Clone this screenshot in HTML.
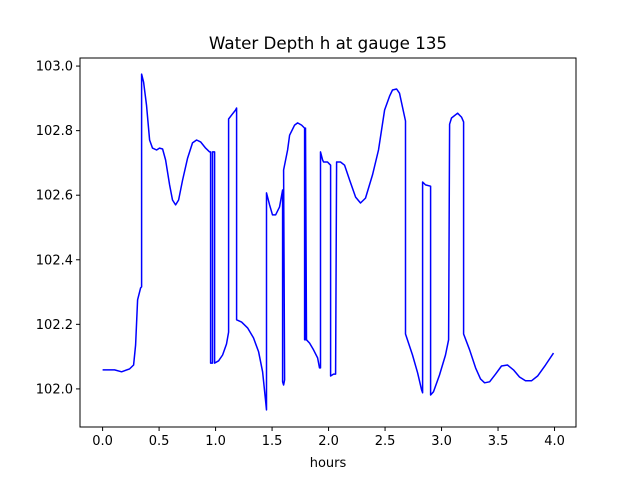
<!DOCTYPE html>
<html><head><meta charset="utf-8"><style>
body{margin:0;background:#fff;}
svg text{font-family:"DejaVu Sans","Liberation Sans",sans-serif;font-size:13px;fill:#000;}
</style></head><body>
<svg id="c" width="640" height="480" xmlns="http://www.w3.org/2000/svg">
<rect width="640" height="480" fill="#fff"/>
<text x="328" y="49" text-anchor="middle" style="font-size:16.7px">Water Depth h at gauge 135</text>
<text x="328" y="467" text-anchor="middle">hours</text>
<g id="plot"></g>
</svg>
<script>
const hours=[0.000,0.106,0.168,0.239,0.274,0.292,0.310,0.336,0.345,0.345,0.363,0.389,0.416,0.442,0.478,0.504,0.531,0.558,0.593,0.619,0.646,0.673,0.708,0.752,0.796,0.832,0.867,0.912,0.947,0.956,0.956,0.973,0.973,0.991,0.991,1.027,1.062,1.097,1.115,1.115,1.142,1.177,1.186,1.186,1.230,1.283,1.336,1.381,1.416,1.442,1.451,1.451,1.478,1.504,1.531,1.566,1.593,1.593,1.602,1.611,1.602,1.637,1.655,1.699,1.726,1.761,1.788,1.788,1.796,1.796,1.805,1.832,1.867,1.903,1.920,1.929,1.929,1.947,1.956,1.991,2.018,2.018,2.044,2.062,2.071,2.106,2.142,2.186,2.239,2.283,2.327,2.389,2.442,2.496,2.540,2.566,2.602,2.628,2.681,2.681,2.743,2.788,2.823,2.832,2.832,2.858,2.903,2.903,2.929,2.982,3.035,3.062,3.071,3.088,3.142,3.177,3.195,3.195,3.248,3.301,3.345,3.381,3.425,3.478,3.531,3.584,3.637,3.690,3.743,3.796,3.850,3.920,3.991];
const depth=[102.059,102.059,102.053,102.062,102.074,102.136,102.276,102.313,102.316,102.975,102.950,102.879,102.771,102.746,102.740,102.746,102.743,102.709,102.632,102.585,102.570,102.585,102.647,102.715,102.762,102.771,102.765,102.746,102.734,102.734,102.080,102.080,102.734,102.734,102.080,102.087,102.105,102.139,102.176,102.836,102.848,102.864,102.870,102.214,102.207,102.189,102.158,102.115,102.053,101.966,101.935,102.607,102.570,102.539,102.539,102.563,102.616,102.022,102.012,102.028,102.678,102.740,102.786,102.817,102.824,102.817,102.808,102.152,102.152,102.808,102.152,102.142,102.121,102.096,102.065,102.065,102.734,102.709,102.703,102.703,102.693,102.040,102.046,102.046,102.703,102.703,102.693,102.647,102.594,102.576,102.591,102.663,102.740,102.864,102.907,102.926,102.929,102.916,102.830,102.170,102.105,102.050,101.997,101.988,102.641,102.632,102.628,101.981,101.991,102.043,102.105,102.152,102.820,102.839,102.854,102.842,102.827,102.170,102.121,102.065,102.031,102.019,102.022,102.046,102.071,102.074,102.059,102.037,102.025,102.025,102.040,102.074,102.111];
const xTicks=[0.0,0.5,1.0,1.5,2.0,2.5,3.0,3.5,4.0];
const xTickLabels=["0.0","0.5","1.0","1.5","2.0","2.5","3.0","3.5","4.0"];
const yTicks=[102.0,102.2,102.4,102.6,102.8,103.0];
const yTickLabels=["102.0","102.2","102.4","102.6","102.8","103.0"];
const L=80,R=576,T=58,B=427;
const xMin=-0.2, xMax=4.19, yMin=101.882, yMax=103.025;
const sx=v=>L+(v-xMin)/(xMax-xMin)*(R-L);
const sy=v=>B-(v-yMin)/(yMax-yMin)*(B-T);
const NS="http://www.w3.org/2000/svg";
const g=document.getElementById('plot');
function mk(t,a){const e=document.createElementNS(NS,t);for(const k in a)e.setAttribute(k,a[k]);g.appendChild(e);return e;}
let d="";
for(let i=0;i<hours.length;i++){d+=(i?"L":"M")+sx(hours[i]).toFixed(1)+","+sy(depth[i]).toFixed(1);}
const line=mk('path',{d:d,fill:'none',stroke:'#0000ff','stroke-width':1.5,'stroke-linejoin':'round'});


const frame=mk('rect',{x:L,y:T,width:R-L,height:B-T,fill:'none',stroke:'#000','stroke-width':1});


xTicks.forEach((v,i)=>{const x=sx(v);
const tk=mk('line',{x1:x,x2:x,y1:B,y2:B+4,stroke:'#000'});


const t=mk('text',{x:x,y:B+18,'text-anchor':'middle'});t.textContent=xTickLabels[i];

});
yTicks.forEach((v,i)=>{const y=sy(v);
const tk=mk('line',{x1:L-4,x2:L,y1:y,y2:y,stroke:'#000'});


const t=mk('text',{x:L-7,y:y+4.5,'text-anchor':'end'});t.textContent=yTickLabels[i];

});
</script>
</body></html>
